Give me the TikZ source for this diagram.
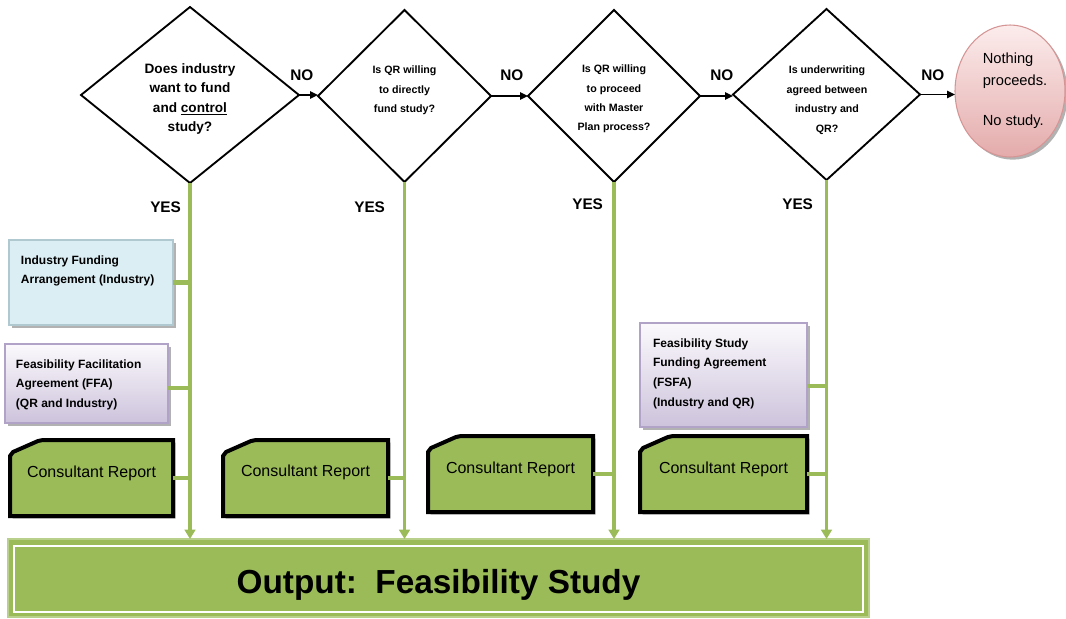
\documentclass[tikz,border=0pt]{standalone}
\usepackage{fontspec}
\setmainfont{Liberation Sans}
\usetikzlibrary{shapes.geometric,arrows.meta,shadows,calc,backgrounds}
\newdimen\px \px=0.75pt
\definecolor{gr}{HTML}{9BBB59}
\definecolor{outborder}{HTML}{B9CF8C}
\definecolor{bluefill}{HTML}{DBEEF4}
\definecolor{blueborder}{HTML}{B0C8D0}
\definecolor{lavtop}{HTML}{FBF9FC}
\definecolor{lavbot}{HTML}{CDC3DC}
\definecolor{lavborder}{HTML}{B1A3C8}
\definecolor{elltop}{HTML}{FCECEC}
\definecolor{ellbot}{HTML}{E4ABAB}
\definecolor{ellborder}{HTML}{D59595}
\newcommand\boxtext[4]{\parbox[c][#1\px][t]{#2\px}{\fontsize{9pt}{14.8pt}\bfseries\selectfont\raggedright\rule{0pt}{#3\px}#4}}
\begin{document}
\begin{tikzpicture}[x=0.75pt,y=-0.75pt,
  dia/.style 2 args={diamond, draw=black, line width=1.4pt, fill=white, inner sep=0pt, outer sep=0pt,
    minimum width=#1*\px, minimum height=#2*\px},
  dtbig/.style={font=\bfseries\fontsize{10.2pt}{14.6pt}\selectfont, align=center, inner sep=0pt},
  dtsmall/.style={font=\bfseries\fontsize{8pt}{14.6pt}\selectfont, align=center, inner sep=0pt},
  lab/.style={font=\bfseries\fontsize{11.5pt}{13pt}\selectfont, inner sep=0pt, anchor=base west},
  noarrow/.style={draw=black, line width=1.4pt, -{Triangle[length=6pt,width=5.5pt]}},
  gline/.style={draw=gr, line width=2.8pt, -{Triangle[length=7pt,width=8pt]}},
  gconn/.style={draw=gr, line width=3.4pt},
  gthin/.style={draw=gr, line width=2.4pt},
  shad/.style={drop shadow={shadow xshift=2pt, shadow yshift=-2pt, opacity=0.3, fill=black}},
  bluebox/.style={draw=blueborder, line width=0.8pt, fill=bluefill, inner ysep=0pt, outer sep=0pt, shad},
  lavbox/.style={draw=lavborder, line width=0.8pt, top color=lavtop, bottom color=lavbot, inner ysep=0pt, outer sep=0pt, shad},
  crnode/.style={inner sep=0pt, outer sep=0pt, minimum width=#1*\px, minimum height=76*\px,
    font=\fontsize{12pt}{14pt}\selectfont},
  crshape/.style={fill=gr, draw=black, line width=3pt, shad},
  ell/.style={ellipse, draw=ellborder, line width=0.8pt, top color=elltop, bottom color=ellbot,
    minimum width=110*\px, minimum height=132*\px, inner sep=0pt, outer sep=0pt,
    font=\fontsize{11pt}{14.8pt}\selectfont, shad},
  outbox/.style={draw=outborder, line width=1pt, fill=gr, inner sep=0pt, outer sep=0pt,
    minimum width=861*\px, minimum height=78*\px, font=\bfseries\fontsize{25pt}{29pt}\selectfont}
]
\useasboundingbox (0,0) rectangle (1066,618);

% decisions
\node[dia={218}{176}] (d1) at (190,95) {};
\node[dia={173}{172}] (d2) at (404.5,96) {};
\node[dia={172}{172}] (d3) at (614,96) {};
\node[dia={187}{171}] (d4) at (826.5,94.5) {};
\node[dtbig] (d1t) at (190,99) {Does industry\\want to fund\\and \underline{control}\\study?};
\node[dtsmall] (d2t) at (404.5,90.5) {Is QR willing\\to directly\\fund study?};
\node[dtsmall] (d3t) at (614,99) {Is QR willing\\to proceed\\with Master\\Plan process?};
\node[dtsmall] (d4t) at (827,100) {Is underwriting\\agreed between\\industry and\\QR?};

% terminal
\node[ell] (stop) at (1010,91) {\hspace{10\px}\begin{tabular}{@{}l@{}}Nothing\\[1.5\px]proceeds.\\[21\px]No study.\end{tabular}};

% NO connectors
\draw[noarrow] (d1.east) -- (d1.east -| d2.west);
\draw[noarrow] (d2.east) -- (d3.west);
\draw[noarrow] (d3.east) -- (d3.east -| d4.west);
\draw[noarrow] (d4.east) -- (d4.east -| stop.west);
\node[lab] (no1) at (290,80) {NO};
\node[lab] (no2) at (500,80) {NO};
\node[lab] (no3) at (710,80) {NO};
\node[lab] (no4) at (921,80) {NO};
\node[lab] (yes1) at (150,212) {YES};
\node[lab] (yes2) at (354,212) {YES};
\node[lab] (yes3) at (572,209) {YES};
\node[lab] (yes4) at (782,209) {YES};

% output
\node[outbox] (out) at (438.5,578) {\raisebox{-15\px}[0pt][0pt]{Output:\ \ Feasibility Study}};
\draw[white, line width=1.2pt] ($(out.north west)+(6,7)$) rectangle ($(out.south east)+(-6,-5)$);

% agreement boxes
\node[bluebox, inner xsep=12*\px] (ifa) at (91,282.5) {\boxtext{85}{140}{24}{Industry Funding\\Arrangement (Industry)}};
\node[lavbox, inner xsep=11*\px] (ffa) at (86.5,383.5) {\boxtext{79}{141}{24}{Feasibility Facilitation\\Agreement (FFA)\\(QR and Industry)}};
\node[lavbox, inner xsep=13*\px] (fsfa) at (723.5,375) {\boxtext{104}{141}{24}{Feasibility Study\\Funding Agreement\\(FSFA)\\(Industry and QR)}};

% consultant reports
\node[crnode=163] (cr1) at (91.5,478) {\raisebox{0.5\px}[0pt][0pt]{Consultant Report}};
\node[crnode=165] (cr2) at (305.5,478) {\raisebox{1.5\px}[0pt][0pt]{Consultant Report}};
\node[crnode=165] (cr3) at (510.5,474) {\raisebox{1\px}[0pt][0pt]{Consultant Report}};
\node[crnode=167] (cr4) at (723.5,474) {\raisebox{1\px}[0pt][0pt]{Consultant Report}};
\begin{scope}[on background layer]
\foreach \c in {cr1,cr2,cr3,cr4}{
  \path[crshape] ($(\c.north west)+(0,16)$) -- ($(\c.north west)+(3,12)$) -- ($(\c.north west)+(28,1)$) -- ($(\c.north west)+(33,0)$)
    -- (\c.north east) -- (\c.south east) -- (\c.south west) -- cycle;
}
\end{scope}

% YES flows
\draw[gline] (d1.south) -- (d1.south |- out.north);
\draw[gline] (d2.south) -- (d2.south |- out.north);
\draw[gline] (d3.south) -- (d3.south |- out.north);
\draw[gline] (d4.south) -- (d4.south |- out.north);
\draw[gconn] (ifa.east) -- (ifa.east -| d1.south);
\draw[gconn] ([yshift=-4.5*\px]ffa.east) -- ([yshift=-4.5*\px]ffa.east -| d1.south);
\draw[gconn] ([yshift=-11*\px]fsfa.east) -- ([yshift=-11*\px]fsfa.east -| d4.south);
\draw[gthin] (cr1.east) -- (cr1.east -| d1.south);
\draw[gthin] (cr2.east) -- (cr2.east -| d2.south);
\draw[gthin] (cr3.east) -- (cr3.east -| d3.south);
\draw[gthin] (cr4.east) -- (cr4.east -| d4.south);
\end{tikzpicture}
\end{document}
